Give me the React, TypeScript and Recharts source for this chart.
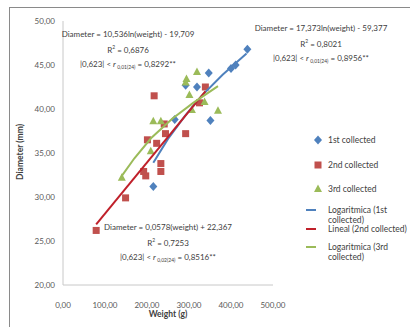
import React from 'react';
import { ScatterChart, Scatter, XAxis, YAxis, ZAxis } from 'recharts';

// puntos (peso g, diametro mm)
const first = [
  { w: 215, d: 31.2 }, { w: 266, d: 38.8 }, { w: 292, d: 42.7 }, { w: 319, d: 42.5 },
  { w: 347, d: 44.1 }, { w: 351, d: 38.7 }, { w: 400, d: 44.6 }, { w: 411, d: 45.0 },
  { w: 439, d: 46.8 },
];
const second = [
  { w: 79, d: 26.2 }, { w: 149, d: 29.9 }, { w: 192, d: 32.9 }, { w: 197, d: 32.4 },
  { w: 201, d: 36.5 }, { w: 217, d: 41.5 }, { w: 223, d: 36.1 }, { w: 233, d: 33.8 },
  { w: 233, d: 32.9 }, { w: 241, d: 38.3 }, { w: 244, d: 37.2 }, { w: 292, d: 37.2 },
  { w: 325, d: 40.7 }, { w: 339, d: 42.5 },
];
const third = [
  { w: 140, d: 32.2 }, { w: 209, d: 35.2 }, { w: 215, d: 38.6 }, { w: 233, d: 38.6 },
  { w: 292, d: 43.0 }, { w: 294, d: 43.4 }, { w: 301, d: 41.6 }, { w: 307, d: 39.9 },
  { w: 319, d: 44.2 }, { w: 337, d: 40.8 }, { w: 369, d: 39.8 },
];
// lineas de tendencia
const trendFirst = [
  { w: 215, d: 33.9 }, { w: 250, d: 36.6 }, { w: 290, d: 39.2 },
  { w: 330, d: 41.5 }, { w: 380, d: 43.9 }, { w: 437, d: 46.3 },
];
const trendSecond = [{ w: 79, d: 26.9 }, { w: 339, d: 42.0 }];
const trendThird = [
  { w: 140, d: 32.4 }, { w: 170, d: 34.4 }, { w: 210, d: 36.7 },
  { w: 260, d: 38.9 }, { w: 310, d: 40.7 }, { w: 369, d: 42.6 },
];
const xTicks = [0, 100, 200, 300, 400, 500];
const yTicks = [20, 25, 30, 35, 40, 45, 50];

const BLUE = '#4F81BD';
const RED = '#C0504D';
const GREEN = '#9BBB59';
const FONT = 'Lato, "Liberation Sans", sans-serif';
const TXT = '#404040';

const fmt = (v: number) => v.toFixed(2).replace('.', ',');

const Diamond = (p: any) => (
  <path d={`M${p.cx},${p.cy - 4.5}L${p.cx + 4},${p.cy}L${p.cx},${p.cy + 4.5}L${p.cx - 4},${p.cy}Z`} fill={BLUE} />
);
const Square = (p: any) => <rect x={p.cx - 3.5} y={p.cy - 3.5} width={7} height={7} fill={RED} />;
const Triangle = (p: any) => (
  <path d={`M${p.cx},${p.cy - 4.5}L${p.cx + 4},${p.cy + 3}L${p.cx - 4},${p.cy + 3}Z`} fill={GREEN} />
);
const NoDot = () => <g />;

const R = ({ sub }: { sub: string }) => (
  <span>
    <i>r</i>
    <span style={{ fontSize: 5, verticalAlign: -2 }}> {sub}</span>
  </span>
);

function Note({ x, y, lines }: { x: number; y: number; lines: React.ReactNode[] }) {
  return (
    <div style={{ position: 'absolute', left: x - 100, top: y, width: 200, textAlign: 'center', fontSize: 8, lineHeight: '13.5px', color: TXT, fontFamily: FONT }}>
      {lines.map((l, i) => (
        <div key={i}>{l}</div>
      ))}
    </div>
  );
}

function LegendItem({ y, icon, text }: { y: number; icon: React.ReactNode; text: React.ReactNode }) {
  return (
    <div style={{ position: 'absolute', left: 304, top: y, width: 106, display: 'flex', alignItems: 'flex-start', fontSize: 8.5, lineHeight: '10px', color: TXT, fontFamily: FONT }}>
      <div style={{ width: 24, height: 10, position: 'relative', flexShrink: 0 }}>{icon}</div>
      <div>{text}</div>
    </div>
  );
}

const lineIcon = (c: string) => (
  <div style={{ position: 'absolute', left: 2, top: 4, width: 10, height: 2, background: c }} />
);
const svgIcon = (shape: React.ReactNode) => (
  <svg width={24} height={10} style={{ position: 'absolute', left: 0, top: 0 }}>{shape}</svg>
);

export default function App() {
  return (
    <div style={{ position: 'absolute', left: 0, top: 0, width: 410, height: 327, overflow: 'hidden', background: '#fff' }}>
      <div style={{ position: 'absolute', left: 9, top: 7, width: 500, height: 400, border: '1px solid #8a8a8a' }} />
      <div style={{ position: 'absolute', left: 0, top: 0 }}>
        <ScatterChart width={410} height={327} margin={{ top: 21, right: 137, bottom: 22, left: 8 }}>
          <XAxis
            type="number"
            dataKey="w"
            domain={[0, 500]}
            ticks={xTicks}
            tickFormatter={fmt}
            height={20}
            tickLine={false}
            tickMargin={11}
            stroke="#c8c8c8"
            tick={{ fill: '#595959', fontSize: 8, fontFamily: FONT }}
          />
          <YAxis
            type="number"
            dataKey="d"
            domain={[20, 50]}
            ticks={yTicks}
            tickFormatter={fmt}
            width={55}
            tickLine={false}
            tickMargin={2}
            stroke="#c8c8c8"
            tick={{ fill: '#595959', fontSize: 8, fontFamily: FONT }}
          />
          <ZAxis range={[50, 50]} />
          <Scatter data={first} shape={Diamond} isAnimationActive={false} />
          <Scatter data={second} shape={Square} isAnimationActive={false} />
          <Scatter data={third} shape={Triangle} isAnimationActive={false} />
          <Scatter data={trendFirst} shape={NoDot} line={{ stroke: BLUE, strokeWidth: 2 }} isAnimationActive={false} />
          <Scatter data={trendSecond} shape={NoDot} line={{ stroke: '#C0202A', strokeWidth: 2 }} isAnimationActive={false} />
          <Scatter data={trendThird} shape={NoDot} line={{ stroke: GREEN, strokeWidth: 2 }} isAnimationActive={false} />
        </ScatterChart>
      </div>

      <div style={{ position: 'absolute', left: 118, top: 309, width: 100, textAlign: 'center', fontSize: 8.5, fontWeight: 'bold', color: TXT, fontFamily: FONT }}>
        Weight (g)
      </div>
      <div style={{ position: 'absolute', left: 20, top: 153, width: 0, height: 0 }}>
        <div style={{ position: 'absolute', left: -50, top: -6, width: 100, textAlign: 'center', fontSize: 8.5, fontWeight: 'bold', color: TXT, fontFamily: FONT, transform: 'rotate(-90deg)' }}>
          Diameter (mm)
        </div>
      </div>

      <Note x={128} y={28} lines={['Diameter = 10,536ln(weight) - 19,709', <span>R<sup style={{ fontSize: 5 }}>2</sup> = 0,6876</span>, <span>|0,623| &lt; <R sub="0,01(24)" /> = 0,8292**</span>]} />
      <Note x={321} y={22} lines={['Diameter = 17,373ln(weight) - 59,377', <span>R<sup style={{ fontSize: 5 }}>2</sup> = 0,8021</span>, <span>|0,623| &lt; <R sub="0,01(24)" /> = 0,8956**</span>]} />
      <Note x={168} y={221} lines={['Diameter = 0,0578(weight) + 22,367', <span>R<sup style={{ fontSize: 5 }}>2</sup> = 0,7253</span>, <span>|0,623| &lt; <R sub="0,02(24)" /> = 0,8516**</span>]} />

      <LegendItem y={135} icon={svgIcon(<path d="M14,0.5L18,5L14,9.5L10,5Z" fill={BLUE} />)} text="1st collected" />
      <LegendItem y={160} icon={svgIcon(<rect x={10.5} y={1.5} width={7} height={7} fill={RED} />)} text="2nd collected" />
      <LegendItem y={184} icon={svgIcon(<path d="M14,0.5L18,8L10,8Z" fill={GREEN} />)} text="3rd collected" />
      <LegendItem y={205} icon={lineIcon(BLUE)} text="Logaritmica (1st collected)" />
      <LegendItem y={224} icon={lineIcon('#C0202A')} text="Lineal (2nd collected)" />
      <LegendItem y={242} icon={lineIcon(GREEN)} text="Logaritmica (3rd collected)" />
    </div>
  );
}
